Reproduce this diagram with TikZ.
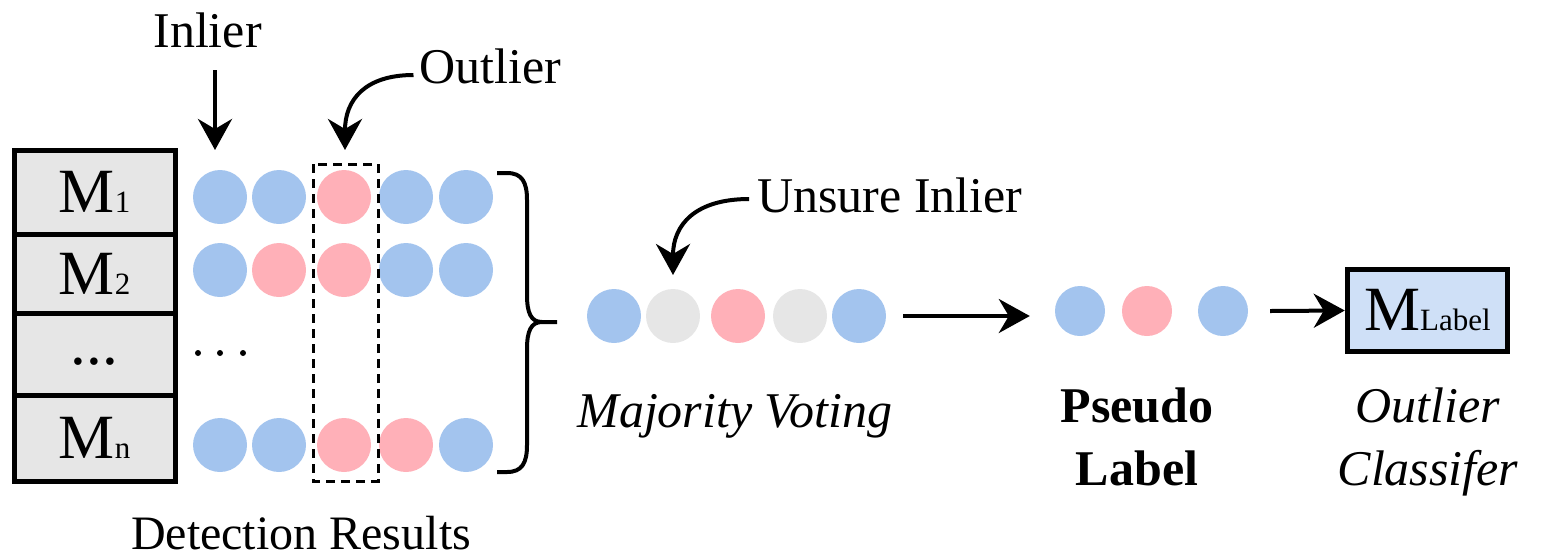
\documentclass[tikz,border=0pt]{standalone}
\usepackage{fontspec}
\setmainfont{Liberation Serif}
\usetikzlibrary{arrows.meta}
\definecolor{inblue}{RGB}{163,196,238}
\definecolor{outpink}{RGB}{255,176,184}
\definecolor{unsuregray}{RGB}{230,230,230}
\definecolor{cellgray}{RGB}{230,230,230}
\definecolor{clsblue}{RGB}{207,224,247}
\newcommand\lbltext{\fontsize{50}{63}\selectfont}
\newcommand\Msub[1]{{\fontsize{63}{63}\selectfont M}{\fontsize{31}{31}\selectfont #1}}
\begin{document}
\begin{tikzpicture}[x=1pt,y=-1pt,
  dot/.style={circle,inner sep=0pt,minimum size=54pt,draw=none},
  pdot/.style={circle,inner sep=0pt,minimum size=50pt,draw=none},
  ib/.style={fill=inblue},
  op/.style={fill=outpink},
  ug/.style={fill=unsuregray},
  cell/.style={draw,line width=5pt,fill=cellgray,minimum width=161pt,inner sep=0pt},
  lbl/.style={font=\lbltext,anchor=base,inner sep=0pt},
  arr/.style={line width=4pt,-{Stealth[length=31pt,width=34pt,inset=10pt]}}]
\useasboundingbox (0,0) rectangle (1565,558);

% model stack
\node[cell,minimum height=84pt] (c1) at (94.5,192) {\Msub{1}};
\node[cell,minimum height=79pt] (c2) at (94.5,273.5) {\Msub{2}};
\node[cell,minimum height=82pt] (c3) at (94.5,354) {};
\node[anchor=base,inner sep=0pt,font=\fontsize{63}{63}\selectfont] (c3dots) at (94.5,364) {...};
\node[cell,minimum height=86pt] (c4) at (94.5,438) {\Msub{n}};

% detection results
\foreach \x/\s [count=\i] in {220/ib,279/ib,344/op,406/ib,466/ib}
  \node[dot,\s] (ra\i) at (\x,197) {};
\foreach \x/\s [count=\i] in {220/ib,279/op,344/op,406/ib,466/ib}
  \node[dot,\s] (rb\i) at (\x,270) {};
\foreach \x/\s [count=\i] in {220/ib,279/ib,344/op,406/op,466/ib}
  \node[dot,\s] (rn\i) at (\x,445) {};
\foreach \x in {198,220,243}
  \fill (\x,353) circle (3pt);

% outlier column
\draw[line width=3pt,dash pattern=on 9pt off 6pt] (313,164) rectangle (378,481);

% brace
\draw[line width=4pt]
  (497,173) -- (507,173) .. controls (522,173) and (527,182) .. (527,200)
  -- (527,295) .. controls (527,313) and (531,322) .. (542,322) -- (557,322)
  (542,322) .. controls (531,322) and (527,331) .. (527,349)
  -- (527,445) .. controls (527,463) and (522,472) .. (507,472) -- (497,472);

% majority voting
\foreach \x/\s [count=\i] in {614/ib,673/ug,738/op,800/ug,859/ib}
  \node[dot,\s] (mv\i) at (\x,316) {};

% pseudo labels
\foreach \x/\s [count=\i] in {1080/ib,1147/op,1223/ib}
  \node[pdot,\s] (pl\i) at (\x,311) {};

% classifier
\node[draw,line width=5.5pt,fill=clsblue,minimum width=160pt,minimum height=82pt,inner sep=0pt]
  (cls) at (1427.5,310.5) {\Msub{Label}};

% labels
\node[lbl] (inl) at (207.5,47) {Inlier};
\node[lbl] (outl) at (490.5,83) {Outlier};
\node[lbl] (uns) at (890,212) {Unsure Inlier};
\node[lbl,font=\lbltext\itshape] (maj) at (735,427) {Majority Voting};
\node[lbl,font=\lbltext\bfseries] (psa) at (1137,422) {Pseudo};
\node[lbl,font=\lbltext\bfseries] (psb) at (1137,485) {Label};
\node[lbl,font=\lbltext\itshape] (oca) at (1428,422) {Outlier};
\node[lbl,font=\lbltext\itshape] (ocb) at (1428,485) {Classifer};
\node[lbl,font=\fontsize{48}{56}\selectfont] (det) at (301,549) {Detection Results};

% pointers
\coordinate (inlS) at (215,70);
\coordinate (inlE) at (215,150);
\draw[arr] (inlS) -- (inlE);
\coordinate (outS) at (outl.west |- 0,75);
\coordinate (outE) at (345,150);
\draw[arr] ([xshift=-6pt]outS) .. controls (365,75) and (345,100) .. (outE);
\coordinate (unsS) at (uns.west |- 0,199);
\coordinate (unsE) at (673,275);
\draw[arr] ([xshift=-8pt]unsS) .. controls (695,199) and (673,225) .. (unsE);

% flow
\draw[arr] ([xshift=17pt]mv5.east) -- ([xshift=-25pt]pl1.west |- mv5.east);
\draw[arr] ([xshift=22pt]pl3.east) -- (cls.west);
\end{tikzpicture}
\end{document}
